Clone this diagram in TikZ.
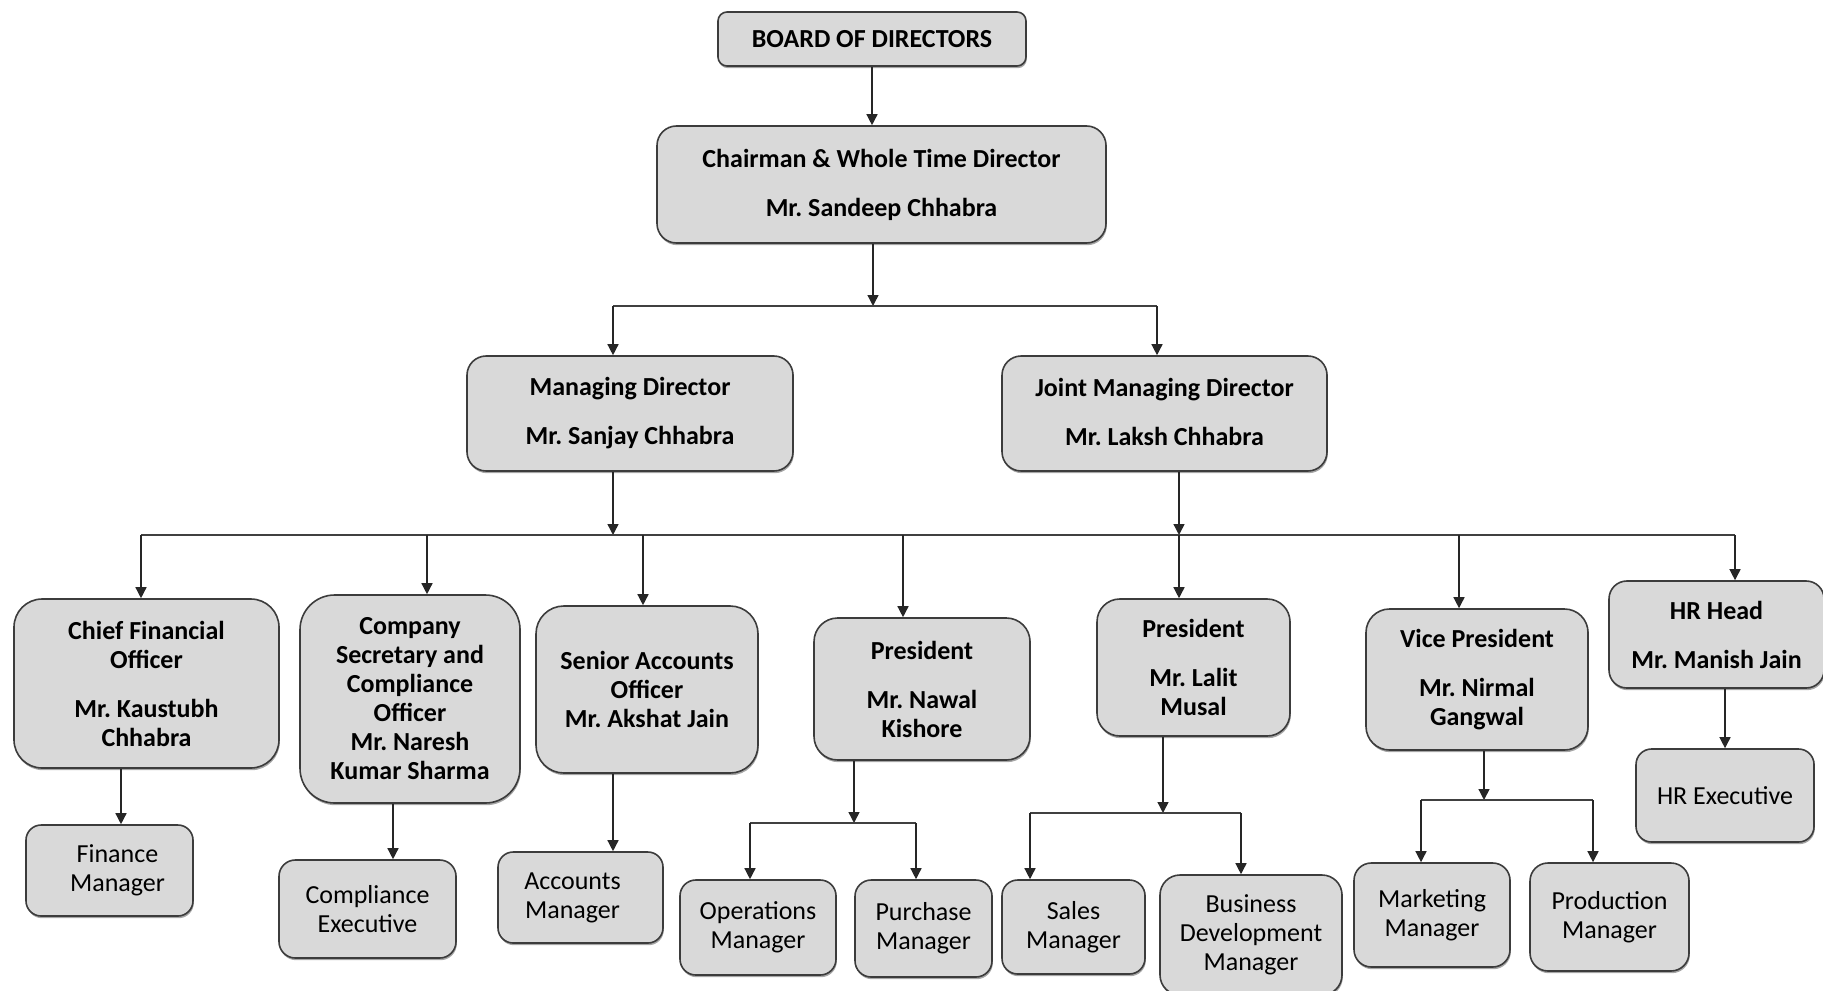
\documentclass[tikz,border=0pt]{standalone}
\usepackage{fontspec}
\setmainfont{Carlito}
\frenchspacing
\usetikzlibrary{arrows.meta,shadows}
\definecolor{boxgray}{RGB}{217,217,217}
\definecolor{edgegray}{RGB}{60,60,60}
\tikzset{post/.style={draw=edgegray,fill=boxgray,line width=.8pt,align=center,
    font=\fontsize{13}{14.5}\selectfont\bfseries,inner sep=2pt,
    drop shadow={shadow xshift=.4pt,shadow yshift=-1.1pt,opacity=.7}},
  staff/.style={post,font=\fontsize{13}{14.5}\selectfont},
  dims/.style 2 args={minimum width=#1*.5pt,minimum height=#2*.5pt,
    rounded corners={min(#1,#2)/12*1pt}},
  link/.style={-{Triangle[length=5.5pt,width=5.5pt]},line width=.7pt,draw=black!85},
  rail/.style={line width=.7pt,draw=black!75}}

\begin{document}
\begin{tikzpicture}[x=.5pt,y=-.5pt]
  \path[use as bounding box] (0,0) rectangle (1823,990);
  \node[post,dims={308}{54}] (board) at (872,39) {BOARD OF DIRECTORS};
  \node[post,dims={449}{117}] (chair) at (881.5,184.5) {Chairman \& Whole Time Director\\[10pt]Mr. Sandeep Chhabra};
  \node[post,dims={326}{115}] (md) at (630,413.5) {Managing Director\\[10pt]Mr. Sanjay Chhabra};
  \node[post,dims={325}{115}] (jmd) at (1164.5,413.5) {Joint Managing Director\\[10pt]Mr. Laksh Chhabra\vphantom{y}};

  \node[post,dims={265}{169}] (cfo) at (146.5,683.5) {Chief Financial\\Officer\\[10pt]Mr. Kaustubh\\Chhabra};
  \node[post,dims={220}{208}] (cs) at (410,699) {Company\\Secretary and\\Compliance\\Officer\\Mr. Naresh\\Kumar Sharma};
  \node[post,dims={222}{167}] (sao) at (647,689.5) {Senior Accounts\\Officer\\Mr. Akshat Jain};
  \node[post,dims={216}{142}] (pnk) at (922,689) {President\\[10pt]Mr. Nawal\\Kishore};
  \node[post,dims={193}{137}] (plm) at (1193.5,667.5) {President\\[10pt]Mr. Lalit\\Musal};
  \node[post,dims={222}{141}] (vp) at (1477,679.5) {Vice President\\[10pt]Mr. Nirmal\\Gangwal};
  \node[post,dims={215}{107}] (hrh) at (1716.5,634.5) {HR Head\\[10pt]Mr. Manish Jain};

  \node[staff,dims={167}{91}] (fin) at (109.5,870.5) {\hspace*{8pt}Finance\\\hspace*{8pt}Manager};
  \node[staff,dims={177}{98}] (cex) at (367.5,909) {Compliance\\Executive};
  \node[staff,dims={165}{91}] (acc) at (580.5,897.5) {Accounts\hspace*{8pt}\\Manager\hspace*{8pt}};
  \node[staff,dims={156}{95}] (ops) at (758,927.5) {Operations\\Manager};
  \node[staff,dims={137}{97}] (pur) at (923.5,928.5) {Purchase\\Manager};
  \node[staff,dims={143}{94}] (sal) at (1073.5,927) {Sales\\Manager};
  \node[staff,dims={182}{120}] (bdm) at (1251,935) {Business\\Development\\Manager};
  \node[staff,dims={156}{104}] (mkt) at (1432,915) {Marketing\\Manager};
  \node[staff,dims={159}{108}] (prd) at (1609.5,917) {Production\\Manager};
  \node[staff,dims={178}{93}] (hre) at (1725,795.5) {HR Executive};

  \coordinate (top) at (873,306);
  \coordinate (topL) at (613,306);
  \coordinate (topR) at (1157,306);
  \coordinate (mid) at (613,535);
  \coordinate (midJ) at (1179,535);
  \coordinate (midL) at (141,535);
  \coordinate (midR) at (1735,535);
  \coordinate (p1) at (854,823);
  \coordinate (p1L) at (750,823);
  \coordinate (p1R) at (916,823);
  \coordinate (p2) at (1163,813);
  \coordinate (p2L) at (1030,813);
  \coordinate (p2R) at (1241,813);
  \coordinate (p3) at (1484,800);
  \coordinate (p3L) at (1421,800);
  \coordinate (p3R) at (1593,800);
  \coordinate (k1) at (121,800);
  \coordinate (k2) at (393,800);
  \coordinate (k3) at (613,800);
  \coordinate (k4) at (1725,700);

  \draw[link] (board.south) -- (board.south |- chair.north);
  \draw[link] (top |- chair.south) -- (top);
  \draw[rail] (topL) -- (topR);
  \draw[link] (topL) -- (topL |- md.north);
  \draw[link] (topR) -- (topR |- jmd.north);
  \draw[link] (mid |- md.south) -- (mid);
  \draw[link] (midJ |- jmd.south) -- (midJ);
  \draw[rail] (midL) -- (midR);
  \foreach \n/\x in {cfo/141,cs/427,sao/643,pnk/903,plm/1179,vp/1459,hrh/1735} {
    \coordinate (r\n) at (\x,535);
    \draw[link] (r\n) -- (r\n |- \n.north);
  }
  \draw[link] (k1 |- cfo.south) -- (k1 |- fin.north);
  \draw[link] (k2 |- cs.south) -- (k2 |- cex.north);
  \draw[link] (k3 |- sao.south) -- (k3 |- acc.north);
  \draw[link] (k4 |- hrh.south) -- (k4 |- hre.north);
  \draw[link] (p1 |- pnk.south) -- (p1);
  \draw[rail] (p1L) -- (p1R);
  \draw[link] (p1L) -- (p1L |- ops.north);
  \draw[link] (p1R) -- (p1R |- pur.north);
  \draw[link] (p2 |- plm.south) -- (p2);
  \draw[rail] (p2L) -- (p2R);
  \draw[link] (p2L) -- (p2L |- sal.north);
  \draw[link] (p2R) -- (p2R |- bdm.north);
  \draw[link] (p3 |- vp.south) -- (p3);
  \draw[rail] (p3L) -- (p3R);
  \draw[link] (p3L) -- (p3L |- mkt.north);
  \draw[link] (p3R) -- (p3R |- prd.north);
\end{tikzpicture}
\end{document}
